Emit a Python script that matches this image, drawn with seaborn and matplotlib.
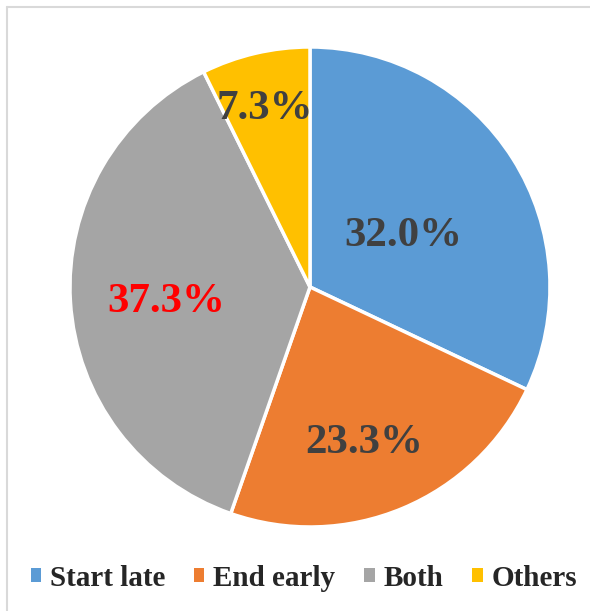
import matplotlib
matplotlib.use("Agg")
import matplotlib.pyplot as plt
from matplotlib.lines import Line2D
from matplotlib.patches import Patch
import seaborn as sns
import numpy as np

categories = ["Start late", "End early", "Both", "Others"]
shares = [32.0, 23.3, 37.3, 7.3]
colors = ["#5B9BD5", "#ED7D31", "#A5A5A5", "#FFC000"]
label_colors = ["#404040", "#404040", "#FF0000", "#404040"]
label_dist = [0.46, 0.67, 0.60, 0.78]
# small nudges (axes data units) so labels sit where the original has them
label_nudge = [(0.0, -0.033), (-0.033, -0.033), (0.0, -0.025), (-0.012, -0.017)]

sns.set_theme(style="white")
plt.rcParams["font.family"] = ["Liberation Serif", "DejaVu Serif"]

fig = plt.figure(figsize=(5.9, 6.11), dpi=100)
ax = fig.add_axes([0.1186, 0.1375, 0.8136, 0.7856])

wedges, texts = ax.pie(shares, colors=colors, startangle=90, counterclock=False,
                       radius=1, wedgeprops=dict(edgecolor="white", linewidth=2.5))
ax.set_xlim(-1, 1)
ax.set_ylim(-1, 1)
ax.set_aspect("equal")
ax.axis("off")

for w, val, d, (dx, dy), c in zip(wedges, shares, label_dist, label_nudge, label_colors):
    ang = np.deg2rad((w.theta1 + w.theta2) / 2)
    ax.text(d * np.cos(ang) + dx, d * np.sin(ang) + dy, f"{val:.1f}%", ha="center",
            va="center", fontsize=31, fontweight="bold", color=c)

handles = [Patch(facecolor=c, edgecolor="none") for c in colors]
fig.legend(handles, categories, loc="center", bbox_to_anchor=(0.515, 0.054), ncol=4,
           frameon=False, prop=dict(size=21, weight="bold"), handlelength=0.35,
           handleheight=0.35, handletextpad=0.3, columnspacing=1.0)

# chart frame (only the top and left edges fall inside the picture)
fig.add_artist(Line2D([6.5 / 590, 6.5 / 590], [0, 1 - 7 / 611], color="#D9D9D9", lw=1.5))
fig.add_artist(Line2D([6.5 / 590, 1], [1 - 7 / 611, 1 - 7 / 611], color="#D9D9D9", lw=1.5))

fig.savefig("out.png", dpi=100, facecolor="white")
